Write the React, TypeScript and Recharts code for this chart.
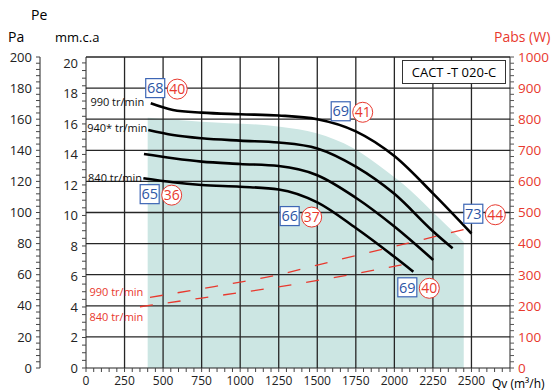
import React from 'react';
import { ComposedChart, XAxis, YAxis, Line, Area, Scatter, CartesianGrid } from 'recharts';

type Pt = [number, number];

// fan curves, Qv (m3/h) -> Pe (Pa)
const curve990: Pt[] = [[420, 170.2], [564, 165.9], [750, 164.2], [1000, 163.2], [1250, 162.4], [1500, 160], [1750, 152.2], [2000, 136.3], [2250, 112.3], [2500, 86.5]];
const curve940: Pt[] = [[404, 153], [564, 149.8], [750, 147.7], [1000, 146.2], [1250, 145], [1500, 141.2], [1750, 129.5], [2000, 112], [2250, 88], [2378, 77]];
const curve900: Pt[] = [[376, 137.6], [564, 134.9], [750, 132.7], [1000, 131.2], [1250, 129.9], [1500, 124], [1750, 109.5], [2000, 91], [2252, 69.5]];
const curve840: Pt[] = [[372, 122], [564, 119.4], [750, 117.7], [1000, 116.6], [1250, 114.8], [1500, 106.5], [1750, 90], [2000, 71.5], [2123, 61.9]];
// recommended zone (teal)
const zone: Pt[] = [[400, 161], [750, 158.4], [1258, 155.2], [1496, 150.9], [1731, 141.5], [1939, 127.3], [2101, 114.5], [2276, 97.7], [2450, 81]];
// absorbed power, Qv -> W
const power990: Pt[] = [[415, 227], [750, 255], [1000, 276], [1250, 300], [1500, 331], [2000, 391], [2500, 451]];
const power840: Pt[] = [[350, 197], [750, 225], [1200, 257], [1600, 290], [2100, 337]];

// acoustic badges: dB box + circled value
const badges = [
  { qv: 449, pa: 180, db: 68, lw: 40 },
  { qv: 1652, pa: 165.1, db: 69, lw: 41 },
  { qv: 413, pa: 111.8, db: 65, lw: 36 },
  { qv: 1321, pa: 97.7, db: 66, lw: 37 },
  { qv: 2084, pa: 51.9, db: 69, lw: 40 },
  { qv: 2512, pa: 99.2, db: 73, lw: 44 },
];

const speedNotes = [
  { qv: 378, pa: 171, text: '990 tr/min' },
  { qv: 397, pa: 154.3, text: '940* tr/min' },
  { qv: 363, pa: 122.2, text: '840 tr/min' },
];
const powerNotes = [
  { qv: 372, pa: 49.1, text: '990 tr/min' },
  { qv: 372, pa: 32.6, text: '840 tr/min' },
];

const PA_PER_MMCA = 9.81;
const QV_MAX = 2750;
const PA_MAX = 200;
const gridPa = [20, 40, 60, 80, 100, 120, 140, 160, 180, 200];
const gridQv = [250, 500, 750, 1000, 1250, 1500, 1750, 2000, 2250, 2500];

const steps = (to: number, step: number) => {
  const out: number[] = [];
  for (let i = 0; i * step <= to + 1e-9; i++) out.push(Math.round(i * step * 100) / 100);
  return out;
};

const series: Record<string, Pt[]> = {
  zone, c990: curve990, c940: curve940, c900: curve900, c840: curve840, p990: power990, p840: power840,
};
const rows: any[] = [];
Object.entries(series).forEach(([key, pts]) => pts.forEach(([qv, v]) => rows.push({ qv, [key]: v })));
rows.sort((a, b) => a.qv - b.qv);

const RED = '#e8392e';
const BLUE = '#2c55a5';
const FONT = 'Open Sans, sans-serif';
const MARGIN = { top: 57, right: 0, bottom: 0, left: 8 };

// grid positions through the axis scales (linear fallback on the plot box)
const hCoords = (p: any) => {
  const s = p?.yAxis?.scale;
  if (typeof s === 'function') return gridPa.map((v) => s(v));
  return gridPa.map((v) => p.offset.top + p.offset.height * (1 - v / PA_MAX));
};
const vCoords = (p: any) => {
  const s = p?.xAxis?.scale;
  if (typeof s === 'function') return gridQv.map((v) => s(v));
  return gridQv.map((v) => p.offset.left + (p.offset.width * v) / QV_MAX);
};

const tick = (isMajor: (v: number) => boolean, color: string, size: number, dy: string) => (props: any) => {
  const { x, y, payload, textAnchor } = props;
  if (!isMajor(payload.value)) return <g />;
  return (
    <text x={x} y={y} dy={dy} textAnchor={textAnchor} fontSize={size} fill={color} fontFamily={FONT}>
      {payload.value}
    </text>
  );
};

const Badge = (props: any) => {
  const { cx, cy, payload } = props;
  return (
    <g fontFamily={FONT}>
      <rect x={cx - 9.5} y={cy - 9.5} width={19} height={19} fill="#fff" stroke="#3d66b5" strokeWidth={1.2} />
      <text x={cx} y={cy} dy="0.36em" textAnchor="middle" fontSize={14.5} fill={BLUE}>{payload.db}</text>
      <circle cx={cx + 22} cy={cy + 1} r={10} fill="#fff" stroke={RED} strokeWidth={1} />
      <text x={cx + 22} y={cy + 1} dy="0.36em" textAnchor="middle" fontSize={14} fill={RED}>{payload.lw}</text>
    </g>
  );
};

const Note = (color: string) => (props: any) => (
  <text x={props.cx} y={props.cy} dy="0.36em" textAnchor="end" fontSize={11} fill={color} fontFamily={FONT}>
    {props.payload.text}
  </text>
);

const abs = (left: number, top: number, extra: React.CSSProperties = {}): React.CSSProperties => ({
  position: 'absolute', left, top, lineHeight: 1, whiteSpace: 'nowrap', ...extra,
});

// invisible axes that only reserve the same plot box in the background layer
const ghostAxes = [
  <XAxis key="x" dataKey="qv" type="number" domain={[0, QV_MAX]} height={24} tick={false} axisLine={false} tickLine={false} />,
  <YAxis key="mm" yAxisId="mm" type="number" domain={[0, PA_MAX / PA_PER_MMCA]} width={46} tick={false} axisLine={false} tickLine={false} />,
  <YAxis key="pa" yAxisId="pa" type="number" domain={[0, PA_MAX]} allowDataOverflow width={32} tick={false} axisLine={false} tickLine={false} />,
  <YAxis key="w" yAxisId="w" orientation="right" type="number" domain={[0, 1000]} width={45} tick={false} axisLine={false} tickLine={false} />,
];

export default function App() {
  return (
    <div style={{ position: 'absolute', left: 0, top: 0, width: 555, height: 392, fontFamily: FONT, background: '#fff' }}>
      <div style={abs(0, 0)}>
        <ComposedChart width={555} height={392} data={rows} margin={MARGIN}>
          {ghostAxes}
          <Area
            yAxisId="pa" dataKey="zone" type="monotone" connectNulls stroke="none" fill="#cce6e3"
            fillOpacity={1} isAnimationActive={false} dot={false} activeDot={false}
          />
        </ComposedChart>
      </div>

      <div style={abs(0, 0)}>
        <ComposedChart width={555} height={392} data={rows} margin={MARGIN}>
          <XAxis
            dataKey="qv" type="number" domain={[0, QV_MAX]} ticks={steps(QV_MAX, 50)} interval={0}
            height={24} tickSize={4} tickMargin={4} stroke="#222" tickLine={{ stroke: '#444' }}
            tick={tick((v) => v % 250 === 0 && v <= 2500, '#222', 12, '0.71em')}
          />
          <YAxis
            yAxisId="mm" type="number" domain={[0, PA_MAX / PA_PER_MMCA]} allowDataOverflow ticks={steps(20, 0.5)}
            interval={0} width={46} tickSize={4} tickMargin={4} stroke="#222" tickLine={{ stroke: '#444' }}
            tick={tick((v) => v % 2 === 0, '#222', 13, '0.36em')}
          />
          <YAxis
            yAxisId="pa" type="number" domain={[0, PA_MAX]} allowDataOverflow ticks={steps(PA_MAX, 4)}
            interval={0} width={32} tickSize={4} tickMargin={4} stroke="#222" tickLine={{ stroke: '#444' }}
            tick={tick((v) => v % 20 === 0, '#222', 13, '0.36em')}
          />
          <YAxis
            yAxisId="w" orientation="right" type="number" domain={[0, 1000]} allowDataOverflow ticks={steps(1000, 20)}
            interval={0} width={45} tickSize={4} tickMargin={4} stroke="#222" tickLine={{ stroke: '#555' }}
            tick={tick((v) => v % 100 === 0, RED, 13.5, '0.36em')}
          />

          <CartesianGrid
            yAxisId="pa" stroke="#262626" strokeWidth={1.3} fill="none"
            horizontalCoordinatesGenerator={hCoords} verticalCoordinatesGenerator={vCoords}
          />

          <Line yAxisId="w" dataKey="p990" type="monotone" connectNulls stroke={RED} strokeWidth={1.3}
            strokeDasharray="13 15" dot={false} activeDot={false} isAnimationActive={false} />
          <Line yAxisId="w" dataKey="p840" type="monotone" connectNulls stroke={RED} strokeWidth={1.3}
            strokeDasharray="13 15" dot={false} activeDot={false} isAnimationActive={false} />

          {['c990', 'c940', 'c900', 'c840'].map((k) => (
            <Line key={k} yAxisId="pa" dataKey={k} type="monotone" connectNulls stroke="#000" strokeWidth={2.6}
              dot={false} activeDot={false} isAnimationActive={false} />
          ))}

          <Scatter yAxisId="pa" data={speedNotes} dataKey="pa" shape={Note('#111')} isAnimationActive={false} />
          <Scatter yAxisId="pa" data={powerNotes} dataKey="pa" shape={Note(RED)} isAnimationActive={false} />
          <Scatter yAxisId="pa" data={badges} dataKey="pa" shape={Badge} isAnimationActive={false} />
        </ComposedChart>
      </div>

      <span style={abs(31, 8, { fontSize: 14 })}>Pe</span>
      <span style={abs(8, 30, { fontSize: 14 })}>Pa</span>
      <span style={abs(55, 31, { fontSize: 13 })}>mm.c.a</span>
      <span style={abs(494, 30, { fontSize: 14, color: RED })}>Pabs (W)</span>
      <span style={abs(492, 378, { fontSize: 12 })}>Qv (m³/h)</span>
      <div
        style={abs(402, 60, {
          width: 104, height: 24, boxSizing: 'border-box', border: '1.5px solid #333', background: '#fff',
          fontSize: 13, display: 'flex', alignItems: 'center', justifyContent: 'center',
        })}
      >
        CACT -T 020-C
      </div>
    </div>
  );
}
